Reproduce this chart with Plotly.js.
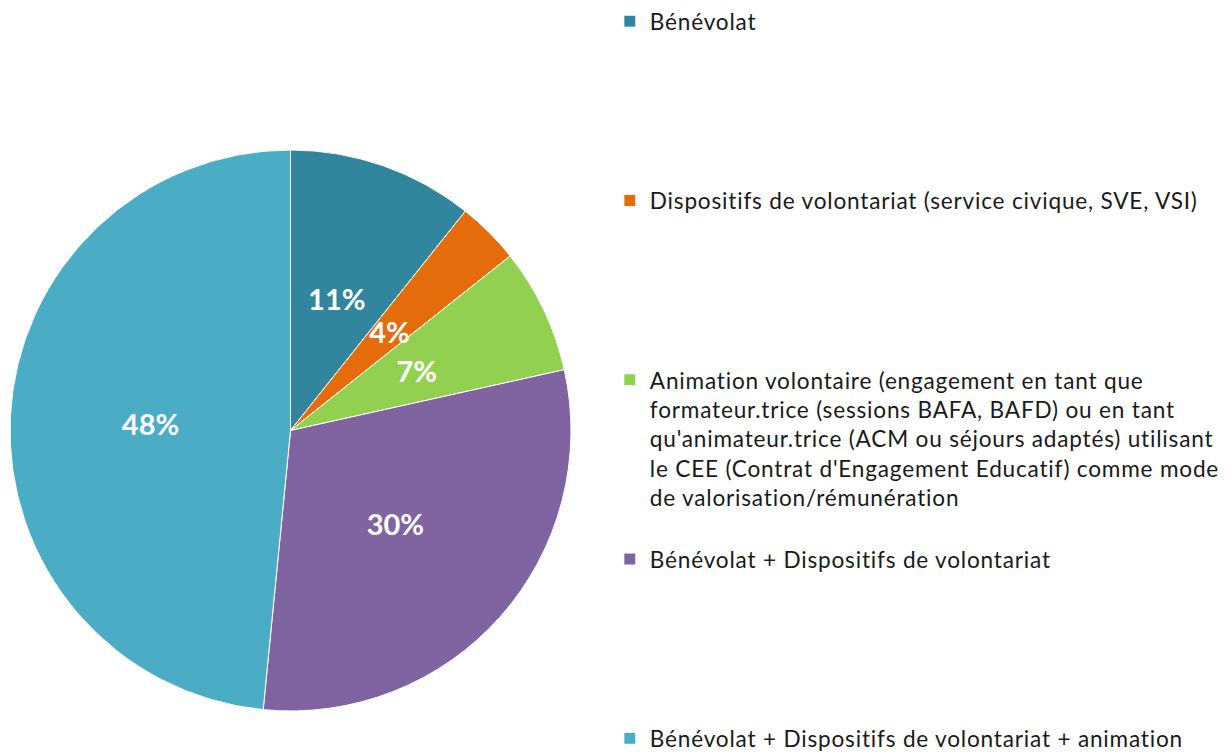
<!DOCTYPE html>
<html>
<head>
<meta charset="utf-8">
<script src="https://cdn.plot.ly/plotly-3.0.1.min.js"></script>
<style>
html,body{margin:0;padding:0;background:#fff;}
#chart{width:1231px;height:754px;}
.legendtext{letter-spacing:0.8px;}
</style>
</head>
<body>
<div id="chart"></div>
<script>
// ---- data ----
const categories = [
  "Bénévolat",
  "Dispositifs de volontariat (service civique, SVE, VSI)",
  "Animation volontaire (engagement en tant que<br>formateur.trice (sessions BAFA, BAFD) ou en tant<br>qu'animateur.trice (ACM ou séjours adaptés) utilisant<br>le CEE (Contrat d'Engagement Educatif) comme mode<br>de valorisation/rémunération",
  "Bénévolat + Dispositifs de volontariat",
  "Bénévolat + Dispositifs de volontariat + animation"
];
const shares = [10.7, 3.6, 7.2, 30.0, 48.4];
const colors = ["#31859C", "#E46C0A", "#92D050", "#8064A2", "#4BACC6"];

// ---- layout helpers (sizes / positions only) ----
const W = 1231, H = 754;
const PIE = {cx: 290.5, cy: 430.5, r: 280.5};
const blankLines = [5, 5, 1, 5, 0];
const labels = categories.map((c, i) => c + "<br>&nbsp;".repeat(blankLines[i]));
const FONT = "Lato, Carlito, 'Liberation Sans', sans-serif";

function domainFor(frac) {
  const rr = PIE.r * frac;
  return {
    x: [(PIE.cx - rr) / W, (PIE.cx + rr) / W],
    y: [(H - PIE.cy - rr) / H, (H - PIE.cy + rr) / H]
  };
}

const transparent = colors.map(() => "rgba(0,0,0,0)");
const labelFont = {family: FONT, size: 29, color: "#ffffff", weight: "bold"};

const base = {
  type: "pie",
  labels: labels,
  values: shares,
  sort: false,
  direction: "clockwise",
  rotation: 0,
  marker: {colors: colors, line: {color: "#ffffff", width: 1}},
  textinfo: "none",
  hoverinfo: "label+percent",
  domain: domainFor(1)
};

// overlay rings that only carry the percentage labels (placed at mid-radius)
function labelRing(frac, hole, show) {
  return {
    type: "pie",
    labels: labels,
    values: shares,
    sort: false,
    direction: "clockwise",
    rotation: 0,
    hole: hole,
    showlegend: false,
    hoverinfo: "skip",
    marker: {colors: transparent, line: {width: 0}},
    texttemplate: "%{percent:.0%}",
    textposition: show.map(s => s ? "inside" : "none"),
    insidetextorientation: "horizontal",
    textfont: labelFont,
    domain: domainFor(frac)
  };
}

const ringMain  = labelRing(0.642, 0.556, [true, false, false, true, true]);
const ringGreen = labelRing(0.611, 0.5,   [false, false, true, false, false]);
const ringSmall = labelRing(0.555, 0.5,   [false, true, false, false, false]);

const layout = {
  width: W,
  height: H,
  margin: {l: 0, r: 0, t: 0, b: 0},
  paper_bgcolor: "#ffffff",
  showlegend: true,
  uniformtext: {mode: "show", minsize: 29},
  legend: {
    x: 0.4954, xanchor: "left",
    y: 0.992, yanchor: "top",
    valign: "top",
    font: {family: FONT, size: 22.6, color: "#1a1a1a"},
    bgcolor: "rgba(0,0,0,0)",
    tracegroupgap: 0
  }
};

Plotly.newPlot("chart", [base, ringMain, ringGreen, ringSmall], layout, {displayModeBar: false, staticPlot: true});
</script>
</body>
</html>
